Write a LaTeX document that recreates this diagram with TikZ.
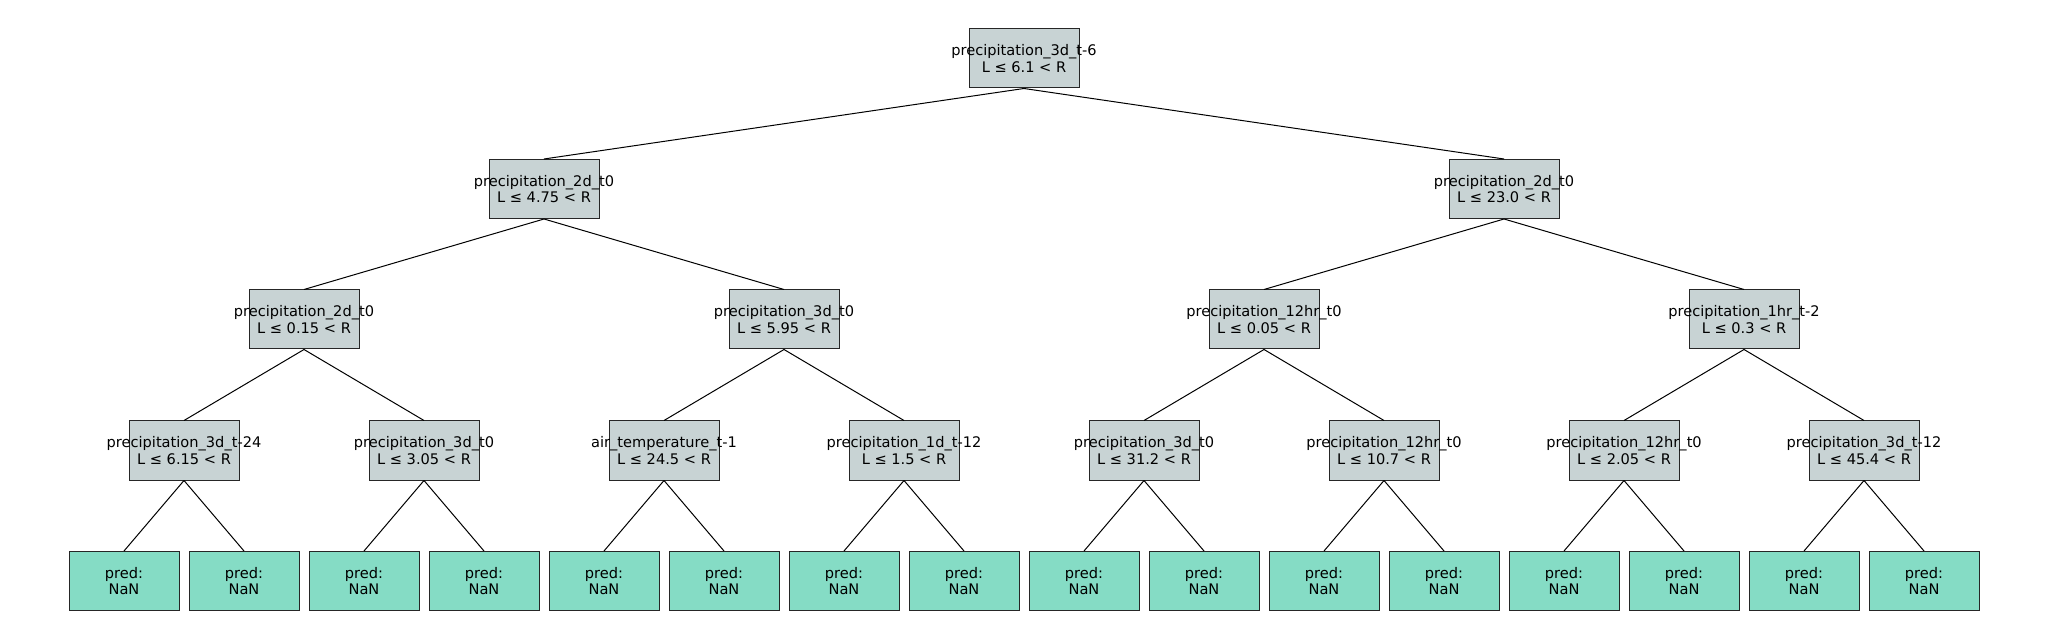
\documentclass[tikz,border=0pt]{standalone}
\usepackage{fontspec}
\setmainfont{DejaVu Sans}
\usepackage{xcolor}
\usepackage{tikz}

\definecolor{splitgray}{RGB}{200,211,212}
\definecolor{leafgreen}{RGB}{133,220,197}

\newcommand{\splitlabel}[2]{\makebox[0pt]{#1}\\\makebox[0pt]{L ≤ #2 < R}}
\newcommand{\leaflabel}{\makebox[0pt]{pred:}\\\makebox[0pt]{NaN}}

\tikzset{
	treebox/.style={draw=black!85, line width=0.5pt, minimum width=55pt, minimum height=29.5pt,
		inner sep=0pt, align=center, font=\fontsize{7.3}{8.4}\selectfont},
	splitnode/.style={treebox, fill=splitgray},
	leafnode/.style={treebox, fill=leafgreen}
}

\begin{document}
\begin{tikzpicture}[x=0.5pt,y=-0.5pt]
		\useasboundingbox (0,0) rectangle (2048,640);
		% split nodes
		\node[splitnode] (T) at (1024,58.5) {\splitlabel{precipitation\_3d\_t-6}{6.1}};
		\node[splitnode] (L) at (544,189) {\splitlabel{precipitation\_2d\_t0}{4.75}};
		\node[splitnode] (R) at (1504,189) {\splitlabel{precipitation\_2d\_t0}{23.0}};
		\node[splitnode] (LL) at (304,319.5) {\splitlabel{precipitation\_2d\_t0}{0.15}};
		\node[splitnode] (LR) at (784,319.5) {\splitlabel{precipitation\_3d\_t0}{5.95}};
		\node[splitnode] (RL) at (1264,319.5) {\splitlabel{precipitation\_12hr\_t0}{0.05}};
		\node[splitnode] (RR) at (1744,319.5) {\splitlabel{precipitation\_1hr\_t-2}{0.3}};
		\node[splitnode] (LLL) at (184,450.5) {\splitlabel{precipitation\_3d\_t-24}{6.15}};
		\node[splitnode] (LLR) at (424,450.5) {\splitlabel{precipitation\_3d\_t0}{3.05}};
		\node[splitnode] (LRL) at (664,450.5) {\splitlabel{air\_temperature\_t-1}{24.5}};
		\node[splitnode] (LRR) at (904,450.5) {\splitlabel{precipitation\_1d\_t-12}{1.5}};
		\node[splitnode] (RLL) at (1144,450.5) {\splitlabel{precipitation\_3d\_t0}{31.2}};
		\node[splitnode] (RLR) at (1384,450.5) {\splitlabel{precipitation\_12hr\_t0}{10.7}};
		\node[splitnode] (RRL) at (1624,450.5) {\splitlabel{precipitation\_12hr\_t0}{2.05}};
		\node[splitnode] (RRR) at (1864,450.5) {\splitlabel{precipitation\_3d\_t-12}{45.4}};
		% leaves
		\node[leafnode] (LLLL) at (124,581) {\leaflabel};
		\node[leafnode] (LLLR) at (244,581) {\leaflabel};
		\node[leafnode] (LLRL) at (364,581) {\leaflabel};
		\node[leafnode] (LLRR) at (484,581) {\leaflabel};
		\node[leafnode] (LRLL) at (604,581) {\leaflabel};
		\node[leafnode] (LRLR) at (724,581) {\leaflabel};
		\node[leafnode] (LRRL) at (844,581) {\leaflabel};
		\node[leafnode] (LRRR) at (964,581) {\leaflabel};
		\node[leafnode] (RLLL) at (1084,581) {\leaflabel};
		\node[leafnode] (RLLR) at (1204,581) {\leaflabel};
		\node[leafnode] (RLRL) at (1324,581) {\leaflabel};
		\node[leafnode] (RLRR) at (1444,581) {\leaflabel};
		\node[leafnode] (RRLL) at (1564,581) {\leaflabel};
		\node[leafnode] (RRLR) at (1684,581) {\leaflabel};
		\node[leafnode] (RRRL) at (1804,581) {\leaflabel};
		\node[leafnode] (RRRR) at (1924,581) {\leaflabel};
		%
		\path[-,line width=0.5pt]
		% top levels
		(T.south) edge (L.north)
		(T.south) edge (R.north)
		(L.south) edge (LL.north)
		(L.south) edge (LR.north)
		(R.south) edge (RL.north)
		(R.south) edge (RR.north)
		(LL.south) edge (LLL.north)
		(LL.south) edge (LLR.north)
		(LR.south) edge (LRL.north)
		(LR.south) edge (LRR.north)
		(RL.south) edge (RLL.north)
		(RL.south) edge (RLR.north)
		(RR.south) edge (RRL.north)
		(RR.south) edge (RRR.north)
		% down to the leaves
		(LLL.south) edge (LLLL.north)
		(LLL.south) edge (LLLR.north)
		(LLR.south) edge (LLRL.north)
		(LLR.south) edge (LLRR.north)
		(LRL.south) edge (LRLL.north)
		(LRL.south) edge (LRLR.north)
		(LRR.south) edge (LRRL.north)
		(LRR.south) edge (LRRR.north)
		(RLL.south) edge (RLLL.north)
		(RLL.south) edge (RLLR.north)
		(RLR.south) edge (RLRL.north)
		(RLR.south) edge (RLRR.north)
		(RRL.south) edge (RRLL.north)
		(RRL.south) edge (RRLR.north)
		(RRR.south) edge (RRRL.north)
		(RRR.south) edge (RRRR.north);
\end{tikzpicture}
\end{document}
